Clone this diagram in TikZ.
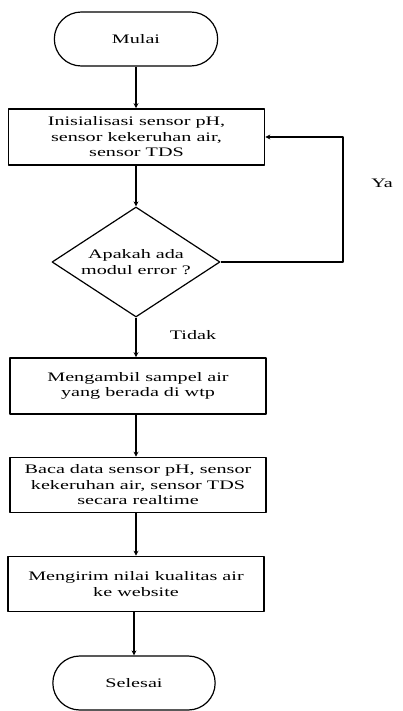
\documentclass[tikz,border=0pt]{standalone}
\usepackage{fontspec}
\setmainfont{Liberation Serif}[FakeStretch=1.55]
\usetikzlibrary{arrows.meta,positioning,shapes.geometric,shapes.misc}
\tikzset{
  term/.style={rounded rectangle,draw,line width=1.2pt,minimum width=170pt,minimum height=54pt},
  proc/.style={rectangle,draw,line width=1.6pt,minimum width=256pt,minimum height=56pt,align=center},
  decide/.style={diamond,draw,line width=1.2pt,minimum width=168pt,minimum height=110pt,
    inner xsep=-14pt,inner ysep=0pt,align=center},
  flow/.style={->,line width=1.2pt},
}

\begin{document}
\begin{tikzpicture}[x=1pt,y=-1pt,>={Stealth[length=5pt,width=5pt]},
  font=\fontsize{13}{15.5}\selectfont,line join=round]
 \useasboundingbox (0,0) rectangle (402,711);
 % langkah-langkah
 \node[term] (mulai) at (136,39) {Mulai};
 \node[proc] (init) at (136.5,137)
  {Inisialisasi sensor pH,\\ sensor kekeruhan air,\\ sensor TDS};
 \node[decide] (cek) at (136,262) {Apakah ada\\ modul error ?};
 \node[proc] (ambil) at (138,386) {Mengambil sampel air\\ yang berada di wtp};
 \node[proc,minimum height=55pt] (baca) at (138,485)
  {Baca data sensor pH, sensor\\ kekeruhan air, sensor TDS\\ secara realtime};
 \node[proc,minimum height=55pt] (kirim) at (136,584)
  {Mengirim nilai kualitas air\\ ke website};
 \node[term,minimum width=169pt] (selesai) at (134,683) {Selesai};
 % panah
 \draw[flow] (mulai.south) -- (mulai.south |- init.north);
 \draw[flow] (init.south -| mulai) -- (cek.north);
 \draw[flow] (cek.south) -- (cek.south |- ambil.north);
 \draw[flow] (ambil.south -| cek) -- (cek |- baca.north);
 \draw[flow] (baca.south -| cek) -- (cek |- kirim.north);
 \draw[flow] (kirim.south -| selesai) -- (selesai.north);
 \coordinate (balik) at (343,262);
 \draw[flow] (cek.east) -- (balik) |- (init.east);
 \node (ya) at (382,183) {Ya};
 \node (tidak) at (193,335) {Tidak};
\end{tikzpicture}
\end{document}
